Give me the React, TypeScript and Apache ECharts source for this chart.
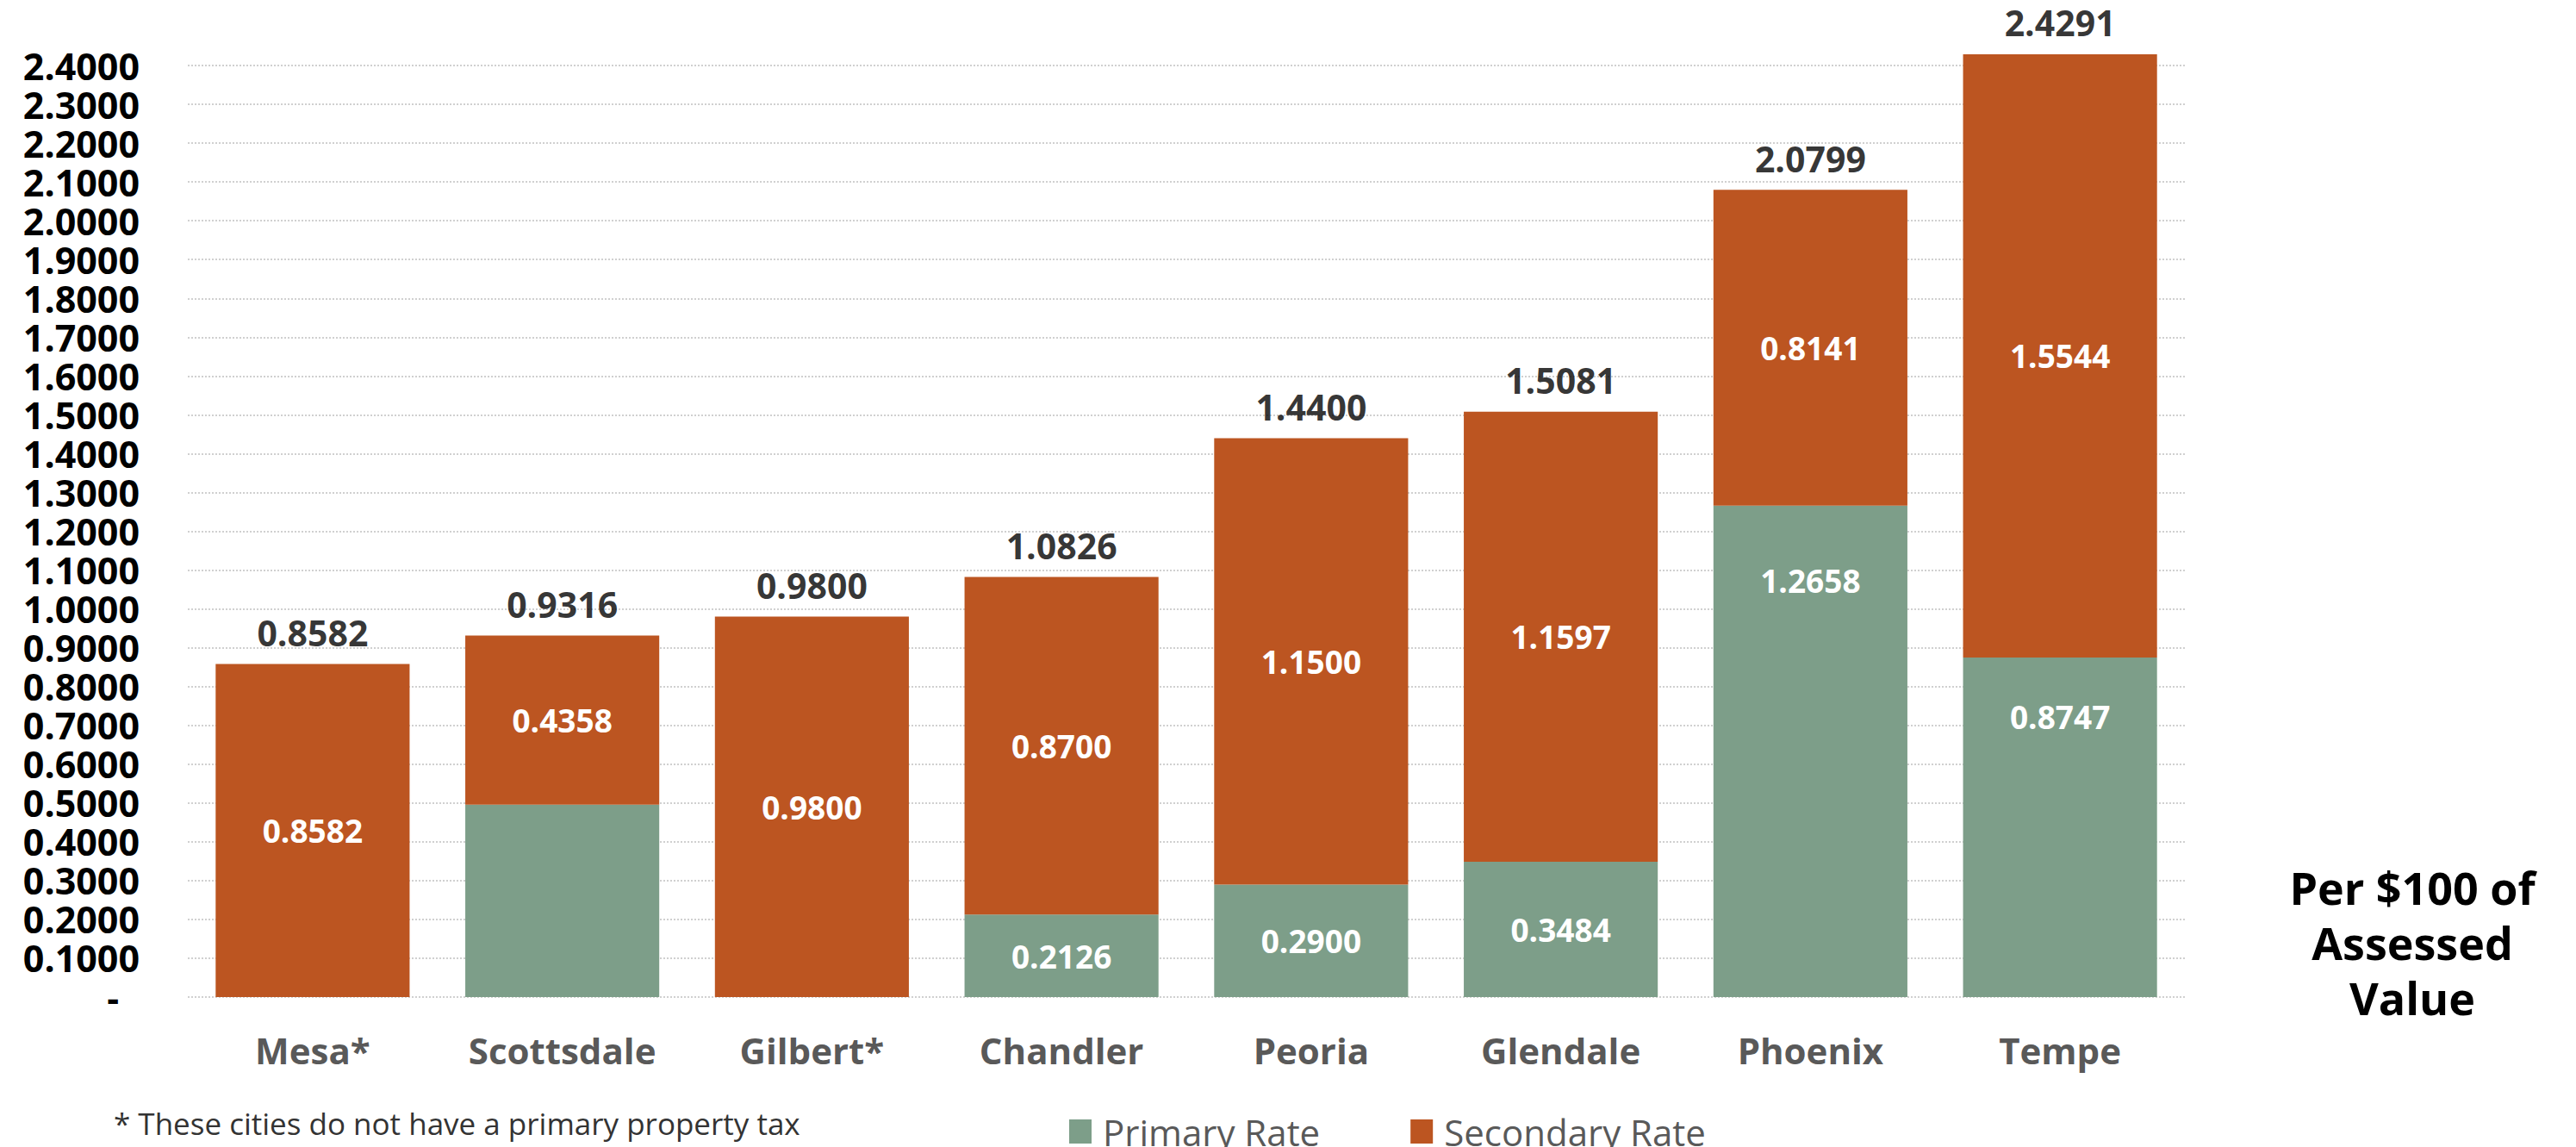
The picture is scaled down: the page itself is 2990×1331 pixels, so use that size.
import React, { useEffect, useRef } from "react";
import * as echarts from "echarts";

const cities = ["Mesa*", "Scottsdale", "Gilbert*", "Chandler", "Peoria", "Glendale", "Phoenix", "Tempe"];
const primaryRate = [0, 0.4958, 0, 0.2126, 0.29, 0.3484, 1.2658, 0.8747];
const secondaryRate = [0.8582, 0.4358, 0.98, 0.87, 1.15, 1.1597, 0.8141, 1.5544];
const totalRate = [0.8582, 0.9316, 0.98, 1.0826, 1.44, 1.5081, 2.0799, 2.4291];
const hiddenPrimaryLabels = ["Scottsdale"];

const GREEN = "#7D9E89";
const ORANGE = "#BC5521";
const FONT = "'Open Sans', 'Noto Sans', sans-serif";

export default function App() {
  const ref = useRef<HTMLDivElement>(null);
  useEffect(() => {
    if (!ref.current) return;
    const chart = echarts.init(ref.current, null, { renderer: "svg" });
    const topDistance: Record<string, number> = { Phoenix: 68, Tempe: 50 };
    const primaryData = primaryRate.map((v, i) => {
      const city = cities[i];
      const show = v > 0 && !hiddenPrimaryLabels.includes(city);
      const d: any = { value: v, label: { show } };
      if (topDistance[city] !== undefined) {
        d.label.position = "insideTop";
        d.label.distance = topDistance[city];
      }
      return d;
    });
    chart.setOption({
      animation: false,
      textStyle: { fontFamily: FONT },
      grid: { left: 218, right: 454, top: 76, bottom: 174, containLabel: false },
      legend: {
        data: ["Primary Rate", "Secondary Rate"],
        left: 1241,
        top: 1292,
        padding: 0,
        itemWidth: 26,
        itemHeight: 28,
        itemGap: 105,
        icon: "rect",
        textStyle: { fontSize: 42, lineHeight: 40, color: "#595959", fontFamily: FONT, padding: [0, 0, 0, 8] },
      },
      xAxis: {
        type: "category",
        data: cities,
        axisLine: { show: false },
        axisTick: { show: false },
        axisLabel: { fontSize: 42, fontWeight: "bold", color: "#595959", margin: 40, fontFamily: FONT },
      },
      yAxis: {
        type: "value",
        min: 0,
        max: 2.4,
        interval: 0.1,
        axisLine: { show: false },
        axisTick: { show: false },
        splitLine: { lineStyle: { color: "#D0D0D0", type: "dotted", width: 2 } },
        axisLabel: {
          fontSize: 43,
          fontWeight: "bold",
          color: "#000",
          margin: 56,
          lineHeight: 44,
          fontFamily: FONT,
          formatter: (v: number) => (Math.abs(v) < 1e-9 ? "{d|-}" : v.toFixed(4)),
          rich: { d: { fontSize: 43, fontWeight: "bold", color: "#000", padding: [0, 24, 0, 0], fontFamily: FONT } },
        },
      },
      series: [
        {
          name: "Primary Rate",
          type: "bar",
          stack: "rate",
          barWidth: "77.7%",
          clip: false,
          itemStyle: { color: GREEN },
          label: {
            show: true,
            position: "inside",
            color: "#fff",
            fontSize: 37,
            fontWeight: "bold",
            fontFamily: FONT,
            formatter: (p: any) => Number(p.value).toFixed(4),
          },
          data: primaryData,
        },
        {
          name: "Secondary Rate",
          type: "bar",
          stack: "rate",
          barWidth: "77.7%",
          clip: false,
          itemStyle: { color: ORANGE },
          label: {
            show: true,
            position: "inside",
            color: "#fff",
            fontSize: 37,
            fontWeight: "bold",
            fontFamily: FONT,
            formatter: (p: any) => Number(p.value).toFixed(4),
          },
          data: secondaryRate,
        },
        {
          name: "Total",
          type: "scatter",
          clip: false,
          symbolSize: 1,
          itemStyle: { color: "rgba(0,0,0,0)" },
          label: {
            show: true,
            position: "top",
            distance: 14,
            color: "#000",
            fontSize: 41,
            fontWeight: "bold",
            lineHeight: 44,
            fontFamily: FONT,
            formatter: (p: any) => Number(p.value).toFixed(4),
          },
          data: totalRate,
        },
      ],
      graphic: [
        {
          type: "text",
          left: 132,
          top: 1286,
          style: {
            text: "* These cities do not have a primary property tax",
            font: `35px ${FONT}`,
            fill: "#333",
          },
        },
        {
          type: "text",
          x: 2800,
          y: 1093,
          style: {
            text: "Per $100 of\nAssessed\nValue",
            font: `bold 52px ${FONT}`,
            fill: "#000",
            align: "center",
            verticalAlign: "middle",
            lineHeight: 64,
          },
        },
      ],
    });
    return () => chart.dispose();
  }, []);
  return <div ref={ref} style={{ position: "absolute", left: 0, top: 0, width: 2990, height: 1331 }} />;
}
